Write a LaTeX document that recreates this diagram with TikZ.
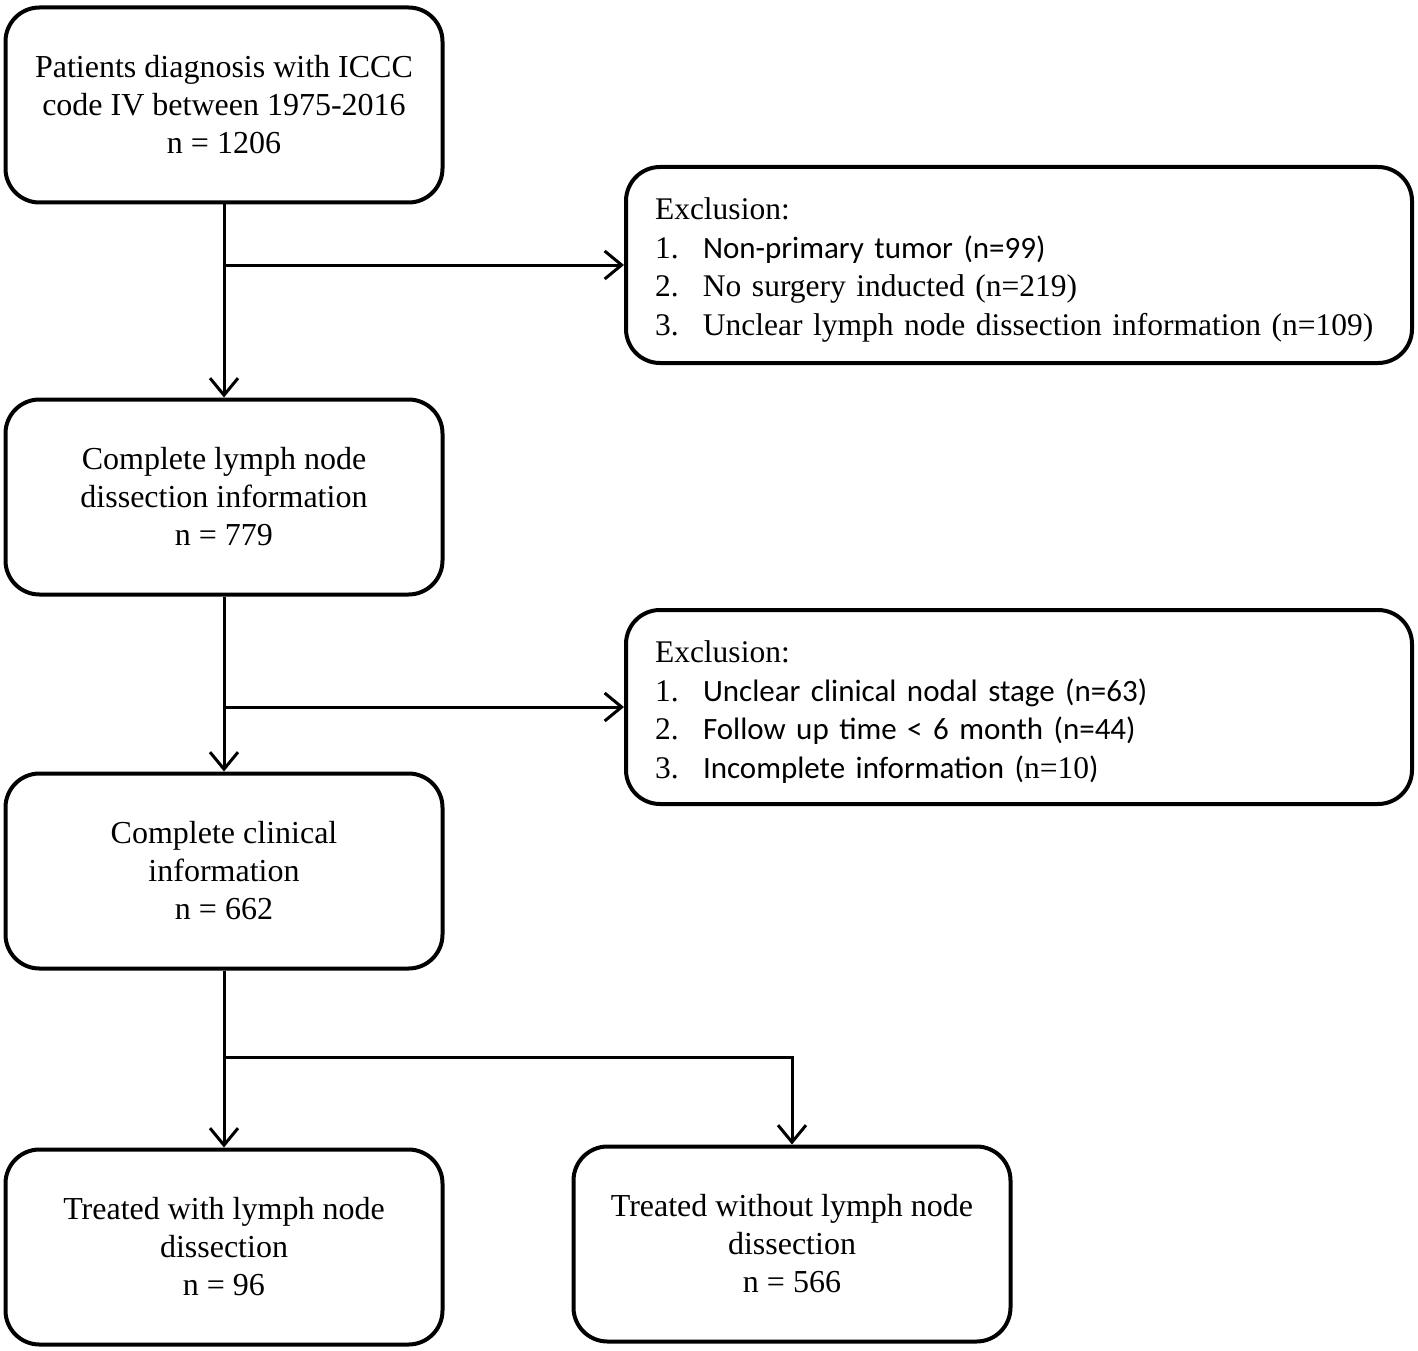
\documentclass[tikz,border=0pt]{standalone}
\usepackage{fontspec}
\setmainfont{Liberation Serif}
\newfontfamily\calibri{Carlito}
\usetikzlibrary{arrows.meta}
\newcommand{\itemno}[1]{\makebox[48pt][l]{#1}}
\newcommand{\calitext}[1]{{\calibri\fontsize{31}{38.7}\selectfont #1}}
\tikzset{
    flowbox/.style={draw, line width=4pt, rounded corners=34pt, align=center,
        font=\fontsize{32}{38}\selectfont, minimum width=437pt, minimum height=195pt},
    exclbox/.style={draw, line width=4pt, rounded corners=34pt, align=left,
        font=\fontsize{31.5}{38.7}\selectfont, text width=728pt, inner xsep=29pt,
        minimum height=196pt},
    conn/.style={line width=3pt},
}
\begin{document}
\begin{tikzpicture}[x=1pt, y=-1pt, >={Straight Barb[length=17pt, width=28pt, line width=3pt]}]
    \useasboundingbox (0,0) rectangle (1418,1351);
    % Main boxes
    \node[flowbox] (patients) at (224,105) {Patients diagnosis with ICCC\\code IV between 1975-2016\\n = 1206};
    \node[flowbox] (lymph) at (224,497) {Complete lymph node\\dissection information\\n = 779};
    \node[flowbox] (clinical) at (224,871) {Complete clinical\\information\\n = 662};
    \node[flowbox] (withLND) at (224,1247) {Treated with lymph node\\dissection\\n = 96};
    \node[flowbox] (withoutLND) at (792,1244) {Treated without lymph node\\dissection\\n = 566};
    % Exclusion boxes
    \node[exclbox] (exclA) at (1019,265) {\rule{0pt}{32pt}Exclusion:\\
        \itemno{1.}\calitext{Non-primary tumor (n=99)}\\
        \itemno{2.}No surgery inducted (n=219)\\
        \itemno{3.}\mbox{Unclear lymph node dissection information (n=109)}};
    \node[exclbox, minimum height=194pt] (exclB) at (1019,707) {\rule{0pt}{32pt}Exclusion:\\
        \itemno{1.}\calitext{Unclear clinical nodal stage (n=63)}\\
        \itemno{2.}\calitext{Follow up time < 6 month (n=44)}\\
        \itemno{3.}\calitext{Incomplete information (}n=10\calitext{)}};
    % Connectors
    \draw[conn, ->] (patients) -- (lymph);
    \draw[conn, ->] (patients.south |- exclA.west) -- (exclA.west);
    \draw[conn, ->] (lymph) -- (clinical);
    \draw[conn, ->] (lymph.south |- exclB.west) -- (exclB.west);
    \draw[conn, ->] (clinical) -- (withLND);
    \coordinate (split) at (224,1057);
    \draw[conn, ->] (split) -| (withoutLND.north);
\end{tikzpicture}
\end{document}
